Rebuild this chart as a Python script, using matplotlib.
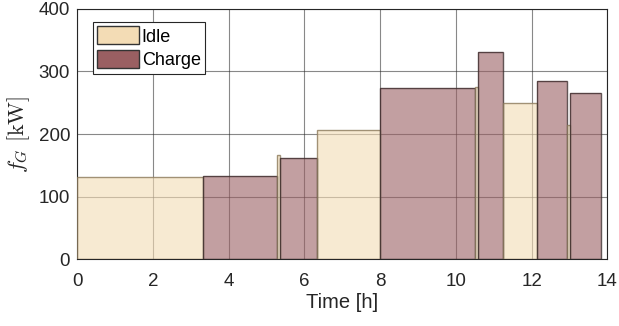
import matplotlib
matplotlib.use("Agg")
import matplotlib.pyplot as plt
from matplotlib.patches import Patch

plt.rcParams['font.family'] = ['Liberation Sans', 'DejaVu Sans']
plt.rcParams['mathtext.fontset'] = 'cm'

# segment data
seg_start = [0.0, 3.33, 5.27, 5.36, 6.34, 8.0, 10.51, 10.59, 11.25, 12.14, 12.93, 13.01]
seg_end   = [3.33, 5.27, 5.36, 6.34, 8.0, 10.51, 10.59, 11.25, 12.14, 12.93, 13.01, 13.83]
seg_power = [131, 133, 166, 162, 206, 274, 275, 331, 249, 285, 215, 265]
seg_mode  = ['Idle', 'Charge', 'Idle', 'Charge', 'Idle', 'Charge', 'Idle', 'Charge',
             'Idle', 'Charge', 'Idle', 'Charge']

x_ticks = [0, 2, 4, 6, 8, 10, 12, 14]
y_ticks = [0, 100, 200, 300, 400]

face = {'Idle': '#F3DCB5', 'Charge': '#9A5F62'}
edge = {'Idle': '#8C7B5E', 'Charge': '#3A2A2A'}

fig = plt.figure(figsize=(6.19, 3.26), dpi=100)
ax = fig.add_axes([0.1244, 0.2046, 0.857, 0.7687])
ax.set_axisbelow(True)
ax.grid(True, color='#262626', linewidth=0.8, alpha=0.55)

for s, e, p, m in zip(seg_start, seg_end, seg_power, seg_mode):
    ax.bar(s, p, width=e - s, align='edge', color=face[m], alpha=0.6,
           edgecolor='none', zorder=2)
    ax.bar(s, p, width=e - s, align='edge', fill=False, edgecolor=edge[m],
           linewidth=1.0, alpha=0.8, zorder=3)

ax.set_xlim(0, 14)
ax.set_ylim(0, 400)
ax.set_xticks(x_ticks)
ax.set_yticks(y_ticks)
ax.tick_params(labelsize=13.5, length=0, colors='#262626')
ax.tick_params(axis='x', pad=10)
ax.tick_params(axis='y', pad=5)
for sp in ax.spines.values():
    sp.set_color('#262626')
    sp.set_linewidth(0.8)

ax.set_xlabel('Time [h]', fontsize=14.5, color='#262626', labelpad=2)
ax.set_ylabel(r'$f_G\ [\mathrm{kW}]$', fontsize=16, color='#262626', labelpad=5)

handles = [Patch(facecolor=face['Idle'], edgecolor='#333333', label='Idle'),
           Patch(facecolor=face['Charge'], edgecolor='#333333', label='Charge')]
leg = ax.legend(handles=handles, loc='upper left', bbox_to_anchor=(0.030, 0.947),
                fontsize=13, fancybox=False, framealpha=1, edgecolor='#262626',
                handlelength=2.3, handleheight=1.15, handletextpad=0.15,
                borderpad=0.25, labelspacing=0.25, borderaxespad=0.0)
leg.get_frame().set_linewidth(0.8)

fig.savefig('out.png', dpi=100)
